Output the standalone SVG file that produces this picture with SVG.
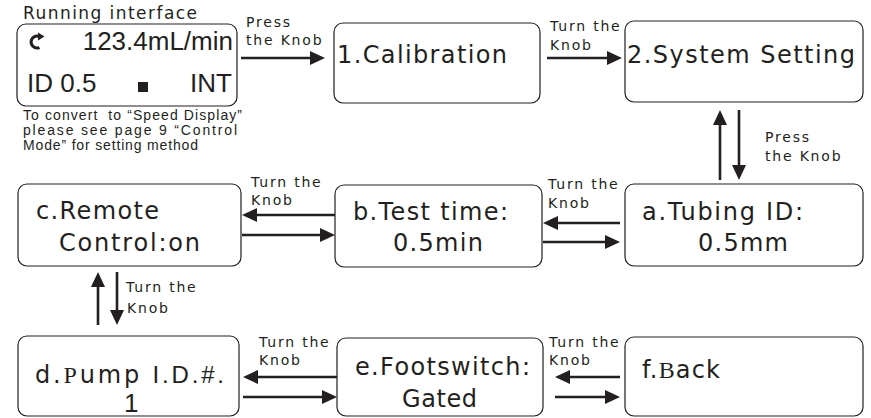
<svg xmlns="http://www.w3.org/2000/svg" width="871" height="418" viewBox="0 0 871 418">
<style>
.box{fill:#fff;stroke:#231f20;stroke-width:1.2}
.t{font-family:"DejaVu Sans",Verdana,sans-serif;font-size:24px;fill:#231f20}
.lcd{font-family:"Liberation Sans",Arial,sans-serif;font-size:26px;fill:#231f20}
.note{font-family:"Liberation Sans",Arial,sans-serif;font-size:14px;fill:#231f20}
.lab{font-family:"DejaVu Sans",Verdana,sans-serif;font-size:14px;letter-spacing:1.8px;fill:#231f20}
.ttl{font-family:"DejaVu Sans",Verdana,sans-serif;font-size:17px;fill:#231f20}
.arr{fill:none;stroke:#231f20;stroke-width:2.6;marker-end:url(#ah)}
</style>
<defs>
<marker id="ah" markerUnits="userSpaceOnUse" markerWidth="16" markerHeight="15" refX="7" refY="7" orient="auto">
<path d="M0,0 L15,7 L0,14 z" fill="#231f20"/>
</marker>
</defs>
<rect width="871" height="418" fill="#fff"/>

<g id="running">
<text class="ttl" x="23" y="19" textLength="174" lengthAdjust="spacing">Running interface</text>
<rect class="box" x="17" y="24" width="220" height="82" rx="9"/>
<path d="M39.5,36.5 A6,6 0 1 0 39.5,47.5" fill="none" stroke="#231f20" stroke-width="3"/>
<path d="M38,32.5 L44.5,36.5 L38,40.5 z" fill="#231f20"/>
<text class="lcd" x="233" y="50" text-anchor="end">123.4mL/min</text>
<text class="lcd" x="27" y="92">ID 0.5</text>
<rect x="138" y="82" width="10" height="10" fill="#231f20"/>
<text class="lcd" x="232" y="92" text-anchor="end">INT</text>
<text class="note" x="23" y="120" xml:space="preserve" textLength="219" lengthAdjust="spacing">To convert  to “Speed Display”</text>
<text class="note" x="23" y="135" textLength="214" lengthAdjust="spacing">please see page 9 “Control</text>
<text class="note" x="23" y="150" textLength="175" lengthAdjust="spacing">Mode” for setting method</text>
</g>

<g id="calibration">
<rect class="box" x="334" y="23" width="206" height="80" rx="9"/>
<text class="t" x="337" y="63" textLength="170" lengthAdjust="spacing">1.Calibration</text>
</g>

<g id="system-setting">
<rect class="box" x="625" y="21" width="238" height="81" rx="9"/>
<text class="t" x="627" y="63" textLength="228" lengthAdjust="spacing">2.System Setting</text>
</g>

<g id="tubing-id">
<rect class="box" x="625" y="184" width="238" height="82" rx="9"/>
<text class="t" x="642" y="220" textLength="161" lengthAdjust="spacing">a.Tubing ID:</text>
<text class="t" x="698" y="251" textLength="90" lengthAdjust="spacing">0.5mm</text>
</g>

<g id="test-time">
<rect class="box" x="335" y="185" width="207" height="82" rx="9"/>
<text class="t" x="353" y="220" textLength="155" lengthAdjust="spacing">b.Test time:</text>
<text class="t" x="393" y="251" textLength="90" lengthAdjust="spacing">0.5min</text>
</g>

<g id="remote-control">
<rect class="box" x="18" y="184" width="223" height="82" rx="9"/>
<text class="t" x="36" y="219" textLength="123" lengthAdjust="spacing">c.Remote</text>
<text class="t" x="59" y="251" textLength="141" lengthAdjust="spacing">Control:on</text>
</g>

<g id="pump-id">
<rect class="box" x="18" y="336" width="221" height="80" rx="9"/>
<text class="t" x="35" y="383" textLength="189" lengthAdjust="spacing">d.<tspan font-family="Liberation Serif">P</tspan>ump <tspan font-family="Liberation Sans">I.D.#.</tspan></text>
<text class="lcd" x="124" y="412" font-size="23">1</text>
</g>

<g id="footswitch">
<rect class="box" x="337" y="338" width="206" height="78" rx="9"/>
<text class="t" x="355" y="375" textLength="175" lengthAdjust="spacing">e.Footswitch:</text>
<text class="t" x="402" y="407" textLength="75" lengthAdjust="spacing">Gated</text>
</g>

<g id="back">
<rect class="box" x="625" y="337" width="238" height="79" rx="9"/>
<text class="t" x="642" y="378" textLength="78" lengthAdjust="spacing">f.<tspan font-family="Liberation Serif">B</tspan>ack</text>
</g>

<g id="connectors">
<path class="arr" d="M241,58 H317"/>
<path class="arr" d="M547,58 H614"/>
<path class="arr" d="M720,180 V118"/>
<path class="arr" d="M739,110 V172"/>
<path class="arr" d="M620,223 H551"/>
<path class="arr" d="M543,242 H612"/>
<path class="arr" d="M335,215 H250"/>
<path class="arr" d="M242,235 H327"/>
<path class="arr" d="M98,325 V280"/>
<path class="arr" d="M117,272 V317"/>
<path class="arr" d="M337,377 H251"/>
<path class="arr" d="M243,397 H329"/>
<path class="arr" d="M620,377 H563"/>
<path class="arr" d="M555,397 H612"/>

<text class="lab" x="246" y="27">Press</text>
<text class="lab" x="246" y="45">the Knob</text>
<text class="lab" x="550" y="31">Turn the</text>
<text class="lab" x="550" y="50">Knob</text>
<text class="lab" x="765" y="142">Press</text>
<text class="lab" x="765" y="161">the Knob</text>
<text class="lab" x="548" y="189">Turn the</text>
<text class="lab" x="548" y="208">Knob</text>
<text class="lab" x="251" y="187">Turn the</text>
<text class="lab" x="251" y="205">Knob</text>
<text class="lab" x="126" y="292">Turn the</text>
<text class="lab" x="127" y="313">Knob</text>
<text class="lab" x="259" y="347">Turn the</text>
<text class="lab" x="259" y="365">Knob</text>
<text class="lab" x="549" y="347">Turn the</text>
<text class="lab" x="549" y="365">Knob</text>
</g>
</svg>
